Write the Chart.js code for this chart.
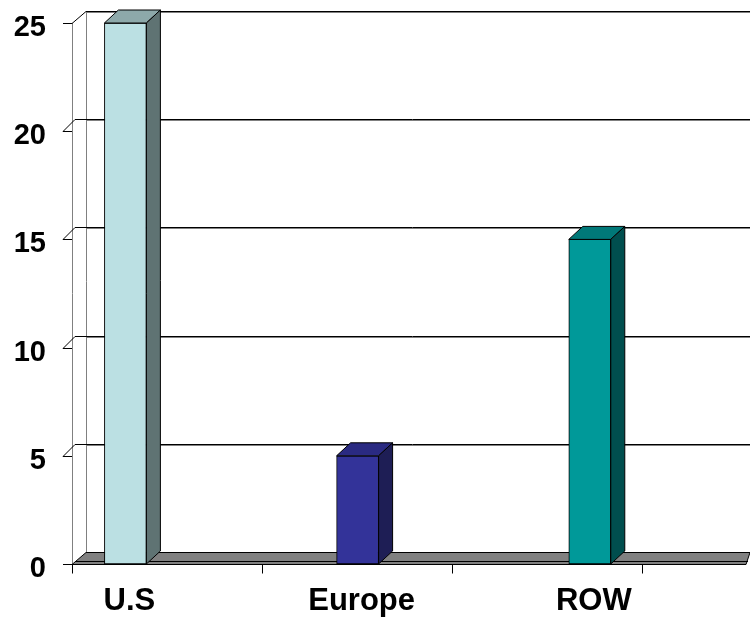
<!DOCTYPE html>
<html>
<head>
<meta charset="utf-8">
<script src="https://cdn.jsdelivr.net/npm/chart.js@4.4.0/dist/chart.umd.min.js"></script>
<style>
    body { margin: 0; background: #fff; }
    #wrap { width: 750px; height: 619px; }
</style>
</head>
<body>
<div id="wrap"><canvas id="myChart"></canvas></div>
<script>
// donnees du graphique
var categories = ["U.S", "Europe", "ROW"];
var values = [25, 5, 15];
var yTicks = [0, 5, 10, 15, 20, 25];

var frontColors = ["#BBE0E3", "#333399", "#009999"];
var topColors = ["#8DA9AA", "#2A2A82", "#007878"];
var sideColors = ["#5F7373", "#1E1E55", "#004E4E"];

// profondeur 3D
var wallDx = 14, wallDy = -12;
var barDx = 14, barDy = -13;
var catStep = 190;

var walls3d = {
    id: "walls3d",
    beforeDatasetsDraw: function (chart) {
        var ctx = chart.ctx;
        var area = chart.chartArea;
        var y = chart.scales.y;
        ctx.save();
        ctx.lineWidth = 1;

        // murs verticaux
        ctx.strokeStyle = "#808080";
        ctx.beginPath();
        ctx.moveTo(area.left + 0.5, area.top);
        ctx.lineTo(area.left + 0.5, area.bottom);
        ctx.moveTo(area.left + wallDx + 0.5, area.top + wallDy);
        ctx.lineTo(area.left + wallDx + 0.5, area.bottom + wallDy);
        ctx.stroke();

        // quadrillage du fond + petites graduations
        yTicks.forEach(function (v, i) {
            var yf = Math.round(y.getPixelForValue(v)) + 0.5;
            var yb = yf + wallDy;
            var last = v === yTicks[yTicks.length - 1];
            ctx.strokeStyle = "#000";
            ctx.beginPath();
            ctx.moveTo(area.left - 9, yf);
            ctx.lineTo(area.left, yf);
            if (last) {
                ctx.moveTo(area.left, yf);
                ctx.lineTo(area.left + wallDx, yb);
            } else if (v !== 0) {
                ctx.moveTo(area.left - 9, yf);
                ctx.lineTo(area.left + 3, yb);
            }
            if (v !== 0) {
                ctx.moveTo(last ? area.left + wallDx : area.left + 3, yb);
                ctx.lineTo(area.right, yb);
            }
            ctx.stroke();
            if (v !== 0) {
                ctx.strokeStyle = "#808080";
                ctx.beginPath();
                ctx.moveTo(area.left + wallDx, yb + 1);
                ctx.lineTo(area.right, yb + 1);
                ctx.stroke();
            }
        });

        // plancher
        var y0 = Math.round(y.getPixelForValue(0)) + 0.5;
        ctx.fillStyle = "#808080";
        ctx.strokeStyle = "#000";
        ctx.beginPath();
        ctx.moveTo(area.left, y0);
        ctx.lineTo(area.left + wallDx, y0 + wallDy);
        ctx.lineTo(area.right, y0 + wallDy);
        ctx.lineTo(area.right - 4, y0);
        ctx.closePath();
        ctx.fill();
        ctx.stroke();
        ctx.beginPath();
        ctx.moveTo(area.left + 4, y0 - 3);
        ctx.lineTo(area.right - 2, y0 - 3);
        ctx.stroke();

        // graduations de l'axe des categories
        ctx.strokeStyle = "#000";
        ctx.beginPath();
        for (var k = 0; area.left + k * catStep < area.right; k++) {
            var xx = Math.round(area.left + k * catStep) + 0.5;
            ctx.moveTo(xx, y0);
            ctx.lineTo(xx, y0 + 9);
        }
        ctx.stroke();
        ctx.restore();
    },
    afterDatasetsDraw: function (chart) {
        var ctx = chart.ctx;
        var meta = chart.getDatasetMeta(0);
        ctx.save();
        ctx.lineWidth = 1;
        ctx.strokeStyle = "#000";
        meta.data.forEach(function (bar, i) {
            var l = bar.x - bar.width / 2;
            var r = bar.x + bar.width / 2;
            var t = bar.y;
            var b = bar.base;
            // dessus
            ctx.fillStyle = topColors[i];
            ctx.beginPath();
            ctx.moveTo(l, t);
            ctx.lineTo(l + barDx, t + barDy);
            ctx.lineTo(r + barDx, t + barDy);
            ctx.lineTo(r, t);
            ctx.closePath();
            ctx.fill();
            ctx.stroke();
            // cote
            ctx.fillStyle = sideColors[i];
            ctx.beginPath();
            ctx.moveTo(r, t);
            ctx.lineTo(r + barDx, t + barDy);
            ctx.lineTo(r + barDx, b + barDy);
            ctx.lineTo(r, b);
            ctx.closePath();
            ctx.fill();
            ctx.stroke();
        });
        ctx.restore();
    }
};

var ctx = document.getElementById("myChart").getContext("2d");
var myChart = new Chart(ctx, {
    type: "bar",
    data: {
        datasets: [{
            data: values.map(function (v, i) { return { x: i, y: v }; }),
            backgroundColor: frontColors,
            borderColor: "#000",
            borderWidth: 1,
            borderSkipped: false,
            barThickness: 42
        }]
    },
    options: {
        responsive: true,
        maintainAspectRatio: false,
        animation: false,
        layout: { padding: { top: 23, left: 0, right: 0, bottom: 0 } },
        plugins: {
            legend: { display: false },
            tooltip: { enabled: false }
        },
        scales: {
            x: {
                type: "linear",
                offset: false,
                min: -0.23,
                max: 2.69,
                grid: { display: false, offset: false },
                border: { display: false },
                afterBuildTicks: function (scale) {
                    scale.ticks = categories.map(function (c, i) { return { value: i }; });
                },
                afterFit: function (scale) {
                    scale.height = 55;
                    scale.paddingLeft = 0;
                    scale.paddingRight = 0;
                },
                ticks: {
                    padding: 11,
                    labelOffset: 4,
                    color: "#000",
                    maxRotation: 0,
                    font: { family: "'Liberation Sans', Arial, sans-serif", size: 31, weight: "bold" },
                    callback: function (value) { return categories[value]; }
                }
            },
            y: {
                min: 0,
                max: 25,
                grid: { display: false },
                border: { display: false },
                afterBuildTicks: function (scale) {
                    scale.ticks = yTicks.map(function (v) { return { value: v }; });
                },
                afterFit: function (scale) {
                    scale.width = 72;
                    scale.paddingTop = 0;
                    scale.paddingBottom = 0;
                },
                ticks: {
                    padding: 18,
                    labelOffset: 5,
                    color: "#000",
                    font: { family: "'Liberation Sans', Arial, sans-serif", size: 29, weight: "bold" }
                }
            }
        }
    },
    plugins: [walls3d]
});
</script>
</body>
</html>
